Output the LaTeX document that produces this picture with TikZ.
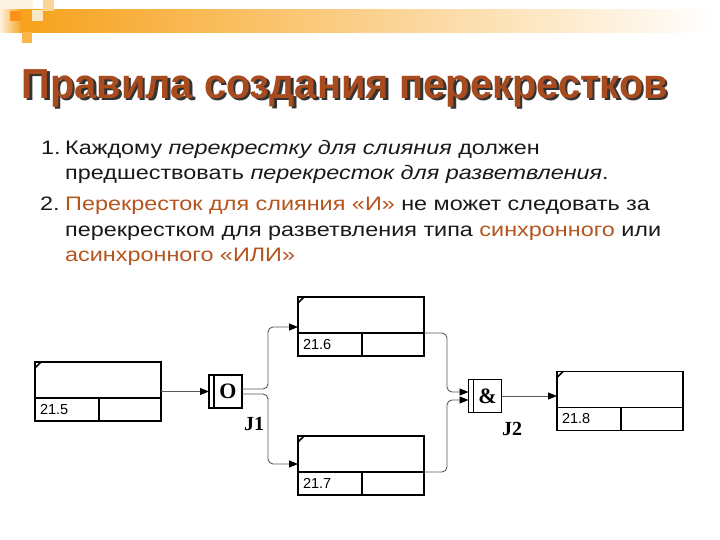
\documentclass[tikz,border=0pt]{standalone}
\usepackage{graphicx}
\usepackage{fontspec}
\setmainfont{Liberation Sans}
\newfontfamily\jfont{Liberation Serif}
\usetikzlibrary{arrows.meta,positioning}
\definecolor{barorange}{HTML}{F7A21B}
\definecolor{titlerust}{HTML}{A84B1F}
\definecolor{accent}{HTML}{B4541E}
% wide body lines and narrow heading, as on the slide
\newcommand{\bodyline}[1]{\scalebox{1.2}[1]{#1}}
\newcommand{\headline}[1]{\scalebox{0.947}[1]{#1}}

\begin{document}
\begin{tikzpicture}[
  x=1pt, y=-1pt,
  heading/.style  = {font=\fontsize{42}{42}\selectfont\bfseries, anchor=base west, inner sep=0pt},
  body/.style     = {font=\fontsize{19.5}{19.5}\selectfont, anchor=base west, inner sep=0pt, text=black!90},
  ubtop/.style    = {draw, line width=1.3pt, minimum width=126pt, minimum height=36pt,
                     outer sep=0pt, inner sep=0pt, anchor=north west},
  ubnum/.style    = {draw, line width=1.3pt, text width=54pt, inner xsep=5pt, inner ysep=0pt,
                     minimum height=23pt, align=left, outer sep=0pt, anchor=north west,
                     font=\fontsize{14.5}{14.5}\selectfont},
  ubcell/.style   = {draw, line width=1.3pt, minimum width=62pt, minimum height=23pt,
                     outer sep=0pt, inner sep=0pt, anchor=north west},
  cornertick/.style = {line width=1.5pt},
  jstrip/.style   = {draw, line width=1.1pt, minimum width=5pt, minimum height=33pt,
                     outer sep=0pt, inner sep=0pt, anchor=east},
  jbox/.style     = {draw, line width=1.1pt, minimum width=28pt, minimum height=33pt,
                     outer sep=0pt, inner sep=0pt, font=\jfont\bfseries\fontsize{22}{22}\selectfont},
  jlabel/.style   = {font=\jfont\bfseries\fontsize{20}{20}\selectfont, inner sep=0pt},
  flow/.style     = {draw=black!65, line width=0.9pt, rounded corners=5pt,
                     -{Triangle[length=9pt,width=7pt,color=black]}},
]
\useasboundingbox (0,0) rectangle (720,540);

% --- top decoration -----------------------------------------------------
\fill[barorange!12] (0,0) rectangle (33,10);
\shade[left color=barorange!15, right color=barorange] (0,10) rectangle (22,33);
\shade[left color=barorange, right color=white] (22,10) rectangle (716,33);
\fill[barorange!90!red] (10,11) rectangle (21,21);
\fill[barorange!25] (32,10) rectangle (43,21);
\fill[barorange!80] (22,32) rectangle (32,43);
\fill[barorange!45] (43,0) rectangle (54,11);

% --- title --------------------------------------------------------------
\node[heading, text=black!80] (titleshadow) at (24,100.5) {\headline{Правила создания перекрестков}};
\node[heading, text=titlerust] (title) at (21.5,98.3) {\headline{Правила создания перекрестков}};

% --- rules --------------------------------------------------------------
\node[body] (n1) at (41,154.5) {\bodyline{1.}};
\node[body] (l1) at (65,154.5) {\bodyline{Каждому \textit{перекрестку для слияния} должен}};
\node[body] (l2) at (65,180) {\bodyline{предшествовать \textit{перекресток для разветвления}.}};
\node[body] (n2) at (40,211) {\bodyline{2.}};
\node[body] (l3) at (65,211) {\bodyline{\textcolor{accent}{Перекресток для слияния «И»} не может следовать за}};
\node[body] (l4) at (65,236.7) {\bodyline{перекрестком для разветвления типа \textcolor{accent}{синхронного} или}};
\node[body] (l5) at (65,261.7) {\bodyline{\textcolor{accent}{асинхронного «ИЛИ»}}};

% --- units of behaviour -------------------------------------------------
\node[ubtop] (b215) at (35,362) {};
\node[ubnum] (b215n) at (b215.south west) {21.5};
\node[ubcell] (b215e) at (b215n.north east) {};
\draw[cornertick] ([yshift=-6pt]b215.north west) -- ([xshift=6pt]b215.north west);

\node[ubtop] (b216) at (298,297) {};
\node[ubnum] (b216n) at (b216.south west) {21.6};
\node[ubcell] (b216e) at (b216n.north east) {};
\draw[cornertick] ([yshift=-6pt]b216.north west) -- ([xshift=6pt]b216.north west);

\node[ubtop] (b217) at (298,436) {};
\node[ubnum] (b217n) at (b217.south west) {21.7};
\node[ubcell] (b217e) at (b217n.north east) {};
\draw[cornertick] ([yshift=-6pt]b217.north west) -- ([xshift=6pt]b217.north west);

\node[ubtop] (b218) at (557,371.5) {};
\node[ubnum] (b218n) at (b218.south west) {21.8};
\node[ubcell] (b218e) at (b218n.north east) {};
\draw[cornertick] ([yshift=-6pt]b218.north west) -- ([xshift=6pt]b218.north west);

% --- junctions ----------------------------------------------------------
\node[jbox] (jo) at (228,391.5) {O};
\node[jstrip] (jos) at (jo.west) {};
\node[jlabel] (j1) at (254,424) {J1};

\node[jbox] (ja) at (487.5,396) {\&};
\node[jstrip] (jas) at (ja.west) {};
\node[jlabel] (j2) at (512,429) {J2};

% --- links --------------------------------------------------------------
\coordinate (split) at (268,391.5);
\coordinate (merge) at (447,396);
\coordinate (in216) at ([yshift=6pt]b216.south west);
\coordinate (in217) at ([yshift=8pt]b217.south west);
\coordinate (inA1) at ([yshift=4pt]jas.west);
\coordinate (inA2) at ([yshift=-4pt]jas.west);

\draw[flow] (jos.west -| b215.east) -- (jos.west);
\draw[flow] ([yshift=2.5pt]jo.east) -| (in216 -| split) -- (in216);
\draw[flow] ([yshift=-2.5pt]jo.east) -| (in217 -| split) -- (in217);
\draw[flow] (b216.south east) -| (inA1 -| merge) -- (inA1);
\draw[flow] (b217.south east) -| (inA2 -| merge) -- (inA2);
\draw[flow] (ja.east) -- (ja.east -| b218.west);

\end{tikzpicture}
\end{document}
